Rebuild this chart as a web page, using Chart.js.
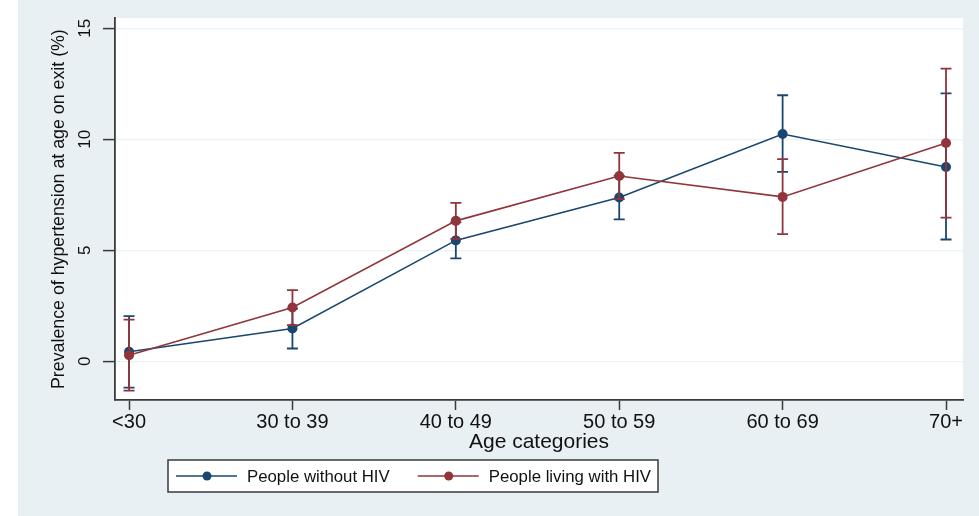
<!DOCTYPE html>
<html>
<head>
<meta charset="utf-8">
<script src="https://cdn.jsdelivr.net/npm/chart.js@4"></script>
<style>
  html, body { margin: 0; padding: 0; background: #ffffff; }
  #wrap { position: absolute; left: 18px; top: 0; width: 961px; height: 516px; background: #e9f0f3; }
  canvas { display: block; }
</style>
</head>
<body>
<div id="wrap"><canvas id="chart" width="961" height="516"></canvas></div>
<script>
// Age groups on the x axis (placed at positions 0..5)
const ageLabels = ['<30', '30 to 39', '40 to 49', '50 to 59', '60 to 69', '70+'];
const agePositions = [0, 1, 2, 3, 4, 5];
const yTickValues = [0, 5, 10, 15];

// Prevalence (%) with 95% confidence limits
const withoutHiv     = [0.42, 1.47, 5.44, 7.37, 10.23, 8.75];
const withoutHivLow  = [-1.19, 0.57, 4.63, 6.39, 8.53, 5.48];
const withoutHivHigh = [2.03, 2.37, 6.25, 8.35, 11.98, 12.06];

const withHiv     = [0.27, 2.42, 6.32, 8.34, 7.40, 9.83];
const withHivLow  = [-1.33, 1.62, 5.51, 7.30, 5.72, 6.47];
const withHivHigh = [1.87, 3.20, 7.13, 9.38, 9.10, 13.18];

const seriesNames = ['People without HIV', 'People living with HIV'];
const BLUE = '#1a476f';
const RED = '#90353b';
const FONT = "'Liberation Sans', Arial, Helvetica, sans-serif";

const toPoints = (vals) => vals.map((v, i) => ({ x: agePositions[i], y: v }));

// White plotting region on the tinted page
const plotBackground = {
  id: 'plotBackground',
  beforeDraw(chart) {
    const { ctx, chartArea: a } = chart;
    ctx.save();
    ctx.fillStyle = '#ffffff';
    ctx.fillRect(a.left, a.top, a.right - a.left, a.bottom - a.top);
    ctx.restore();
  }
};

// Capped confidence-interval bars, drawn under each series' line
const errorBars = {
  id: 'errorBars',
  beforeDatasetDraw(chart, args) {
    const ds = chart.data.datasets[args.index];
    if (!ds.low) return;
    const { ctx, scales: { x, y } } = chart;
    ctx.save();
    ctx.strokeStyle = ds.borderColor;
    ctx.lineWidth = 1.8;
    const cap = 5.5;
    ds.low.forEach((lo, i) => {
      const px = x.getPixelForValue(agePositions[i]);
      const yLo = y.getPixelForValue(lo);
      const yHi = y.getPixelForValue(ds.high[i]);
      ctx.beginPath();
      ctx.moveTo(px, yLo); ctx.lineTo(px, yHi);
      ctx.moveTo(px - cap, yLo); ctx.lineTo(px + cap, yLo);
      ctx.moveTo(px - cap, yHi); ctx.lineTo(px + cap, yHi);
      ctx.stroke();
    });
    ctx.restore();
  }
};

// Boxed legend below the x-axis title
const boxedLegend = {
  id: 'boxedLegend',
  afterDraw(chart) {
    const { ctx } = chart;
    const box = { x: 150, y: 460, w: 490, h: 32 };
    ctx.save();
    ctx.fillStyle = '#ffffff';
    ctx.fillRect(box.x, box.y, box.w, box.h);
    ctx.strokeStyle = '#3a3a3a';
    ctx.lineWidth = 1.5;
    ctx.strokeRect(box.x, box.y, box.w, box.h);
    ctx.font = '16.8px ' + FONT;
    ctx.textBaseline = 'middle';
    ctx.textAlign = 'left';
    const cy = box.y + box.h / 2;
    let cx = box.x + 8;
    chart.data.datasets.forEach((ds) => {
      ctx.strokeStyle = ds.borderColor;
      ctx.lineWidth = 1.5;
      ctx.beginPath();
      ctx.moveTo(cx, cy); ctx.lineTo(cx + 61, cy);
      ctx.stroke();
      ctx.fillStyle = ds.borderColor;
      ctx.beginPath();
      ctx.arc(cx + 31, cy, 4.5, 0, Math.PI * 2);
      ctx.fill();
      ctx.fillStyle = '#111111';
      ctx.fillText(ds.label, cx + 71, cy + 1);
      cx += 71 + ctx.measureText(ds.label).width + 28;
    });
    ctx.restore();
  }
};

new Chart(document.getElementById('chart'), {
  type: 'line',
  data: {
    datasets: [
      {
        label: seriesNames[0],
        data: toPoints(withoutHiv),
        low: withoutHivLow,
        high: withoutHivHigh,
        borderColor: BLUE,
        backgroundColor: BLUE,
        borderWidth: 1.6,
        pointRadius: 5,
        pointBorderWidth: 0,
        order: 1
      },
      {
        label: seriesNames[1],
        data: toPoints(withHiv),
        low: withHivLow,
        high: withHivHigh,
        borderColor: RED,
        backgroundColor: RED,
        borderWidth: 1.6,
        pointRadius: 5,
        pointBorderWidth: 0,
        order: 0
      }
    ]
  },
  options: {
    responsive: false,
    animation: false,
    devicePixelRatio: 1,
    layout: { padding: { top: 17, right: 16, bottom: 56, left: 0 } },
    plugins: { legend: { display: false }, tooltip: { enabled: false } },
    scales: {
      x: {
        type: 'linear',
        min: -0.086,
        max: 5.104,
        afterBuildTicks: (s) => { s.ticks = agePositions.map((v) => ({ value: v })); },
        afterFit: (s) => { s.height = 60; },
        ticks: {
          callback: (v) => ageLabels[Math.round(v)],
          color: '#111111',
          font: { family: FONT, size: 20 },
          padding: 0,
          maxRotation: 0,
          autoSkip: false
        },
        grid: { drawOnChartArea: false, drawTicks: true, tickLength: 10, tickColor: '#3a3a3a', tickWidth: 1.5 },
        border: { display: true, color: '#3a3a3a', width: 1.8 },
        title: {
          display: true,
          text: 'Age categories',
          color: '#111111',
          font: { family: FONT, size: 21 },
          padding: { top: 5, bottom: 5 }
        }
      },
      y: {
        type: 'linear',
        min: -1.75,
        max: 15.45,
        afterBuildTicks: (s) => { s.ticks = yTickValues.map((v) => ({ value: v })); },
        afterFit: (s) => { s.width = 97; },
        ticks: {
          color: '#111111',
          font: { family: FONT, size: 17 },
          minRotation: 90,
          maxRotation: 90,
          crossAlign: 'center',
          padding: 8
        },
        grid: { color: '#eaf2f3', lineWidth: 1.2, drawTicks: true, tickLength: 12, tickColor: '#3a3a3a', tickWidth: 1.5 },
        border: { display: true, color: '#3a3a3a', width: 1.8 },
        title: {
          display: true,
          text: 'Prevalence of hypertension at age on exit (%)',
          color: '#111111',
          font: { family: FONT, size: 17.8 },
          padding: { top: 30, bottom: 0 }
        }
      }
    }
  },
  plugins: [plotBackground, errorBars, boxedLegend]
});
</script>
</body>
</html>
